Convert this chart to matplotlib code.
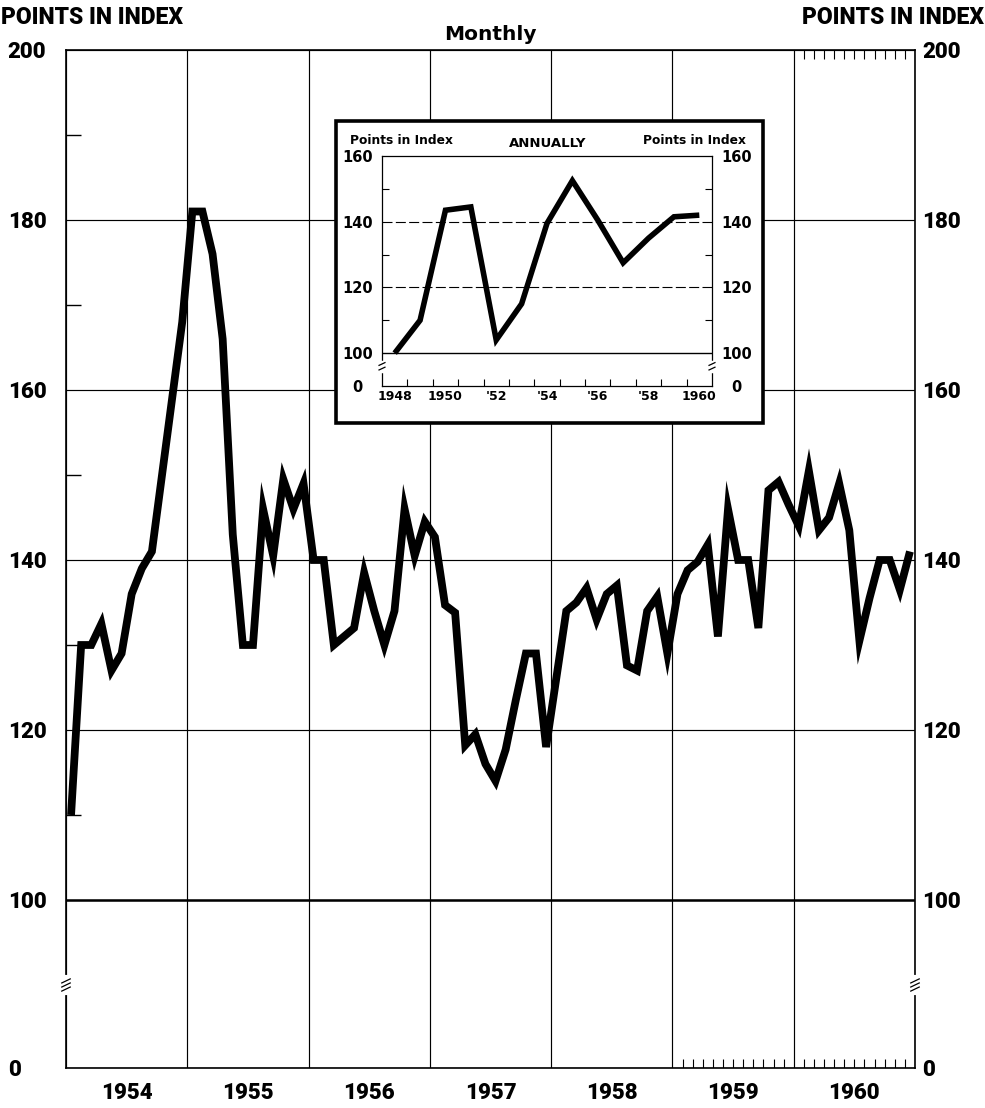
import matplotlib
matplotlib.use("Agg")
import matplotlib.pyplot as plt
import matplotlib.transforms as mtransforms
from matplotlib.patches import Rectangle

# ---------------- data ----------------
years = [1954, 1955, 1956, 1957, 1958, 1959, 1960]
year_labels = ["1954", "1955", "1956", "1957", "1958", "1959", "1960"]

idx_1954 = [110, 130, 130, 132.5, 127, 129, 136, 139, 141, 150, 159, 168]
idx_1955 = [181, 181, 176, 166, 143, 130, 130, 146, 140.5, 149.5, 146, 149]
idx_1956 = [140, 140, 130, 131, 132, 138.5, 134, 130, 134, 146, 140.5, 144.5]
idx_1957 = [142.7, 134.7, 133.8, 118.2, 119.5, 116, 114, 117.7, 123.5, 129, 129, 118]
idx_1958 = [126, 134, 135, 136.7, 133, 136, 137, 127.6, 127, 134, 135.7, 129]
idx_1959 = [136, 138.8, 139.8, 141.8, 131, 146, 140, 140, 132, 148.2, 149.2, 146.5]
idx_1960 = [144, 150.5, 143.5, 145, 149, 143.5, 130.5, 135.5, 140, 140, 136.5, 141]
monthly_series = [idx_1954, idx_1955, idx_1956, idx_1957, idx_1958, idx_1959, idx_1960]

main_ticks = [0, 100, 120, 140, 160, 180, 200]
main_minor = [110, 130, 150, 170, 190]

annual_years = [1948, 1949, 1950, 1951, 1952, 1953, 1954, 1955, 1956, 1957, 1958, 1959, 1960]
annual_values = [100, 110, 143.5, 144.5, 104, 115, 139.5, 152.5, 140.5, 127.5, 135, 141.5, 142]
annual_label_years = [1948, 1950, 1952, 1954, 1956, 1958, 1960]
annual_labels = ["1948", "1950", "'52", "'54", "'56", "'58", "1960"]
inset_ticks = [0, 100, 120, 140, 160]
inset_minor = [110, 130, 150]

# ---------------- style ----------------
plt.rcParams['font.family'] = ['Roboto', 'DejaVu Sans']
plt.rcParams['font.weight'] = 'heavy'

W, H = 985, 1108
fig = plt.figure(figsize=(W / 100, H / 100), dpi=100)
fig.patch.set_facecolor('white')

def fx(px):
    return px / W

def fy(py):
    return 1 - py / H

# main axes: 0 is drawn at a compressed position (broken axis)
AX_L, AX_R, AX_T, AX_B = 66, 915, 50, 1068
ax = fig.add_axes([fx(AX_L), fy(AX_B), fx(AX_R - AX_L), (AX_B - AX_T) / H])
px_per_unit = (900 - AX_T) / 100.0
Y0 = 100 - (AX_B - 900) / px_per_unit   # position of the "0" label

xs = []
vals = []
for yr, series in zip(years, monthly_series):
    for m, v in enumerate(series):
        xs.append(yr + (m + 0.5) / 12)
        vals.append(v)

ax.plot(xs, vals, color='black', lw=5.6, solid_joinstyle='miter',
        solid_capstyle='butt', zorder=3)

ax.set_xlim(years[0], years[-1] + 1)
ax.set_ylim(Y0, 200)

LS = 16
ytick_pos = [Y0 if t == 0 else t for t in main_ticks]
ax.set_yticks(ytick_pos)
ax.set_yticklabels([str(t) for t in main_ticks])
ax.set_yticks(main_minor, minor=True)
ax.tick_params(axis='y', which='major', length=0, pad=42, labelsize=LS)
for lab in ax.get_yticklabels():
    lab.set_ha('left')
ax.tick_params(axis='y', which='minor', direction='in', length=11, width=1.0,
               left=True, right=True)

ax.set_xticks(list(range(years[0], years[-1] + 2)))
ax.set_xticklabels([])
ax.set_xticks([y + 0.5 for y in years], minor=True)
ax.set_xticklabels(year_labels, minor=True)
ax.tick_params(axis='x', which='major', length=0)
ax.tick_params(axis='x', which='minor', length=0, pad=10, labelsize=LS)

ax.grid(True, which='major', color='black', lw=0.85)
ax.axhline(100, color='black', lw=1.8, zorder=2)
for s in ax.spines.values():
    s.set_linewidth(1.2)

# right side labels
ax2 = ax.twinx()
ax2.set_ylim(ax.get_ylim())
ax2.set_yticks(ytick_pos)
ax2.set_yticklabels([str(t) for t in main_ticks])
ax2.tick_params(axis='y', length=0, pad=5, labelsize=LS)
for s in ax2.spines.values():
    s.set_visible(False)

# monthly tick marks on part of the frame
trans = mtransforms.blended_transform_factory(ax.transData, ax.transAxes)
for yr in (1959, 1960):
    mk = [yr + k / 12 for k in range(1, 12)]
    ax.vlines(mk, 0, 0.009, transform=trans, color='black', lw=0.8)
mk = [1960 + k / 12 for k in range(1, 12)]
ax.vlines(mk, 0.991, 1, transform=trans, color='black', lw=0.8)

# axis break marks
yb = (90 - Y0) / (200 - Y0)
for xa in (0, 1):
    ax.plot([xa, xa], [yb - 0.008, yb + 0.008], transform=ax.transAxes,
            color='white', lw=3, zorder=6, clip_on=False)
    for dy in (-0.004, 0.0, 0.004):
        ax.plot([xa - 0.005, xa + 0.005], [yb + dy - 0.002, yb + dy + 0.002],
                transform=ax.transAxes, color='black', lw=0.9, zorder=7,
                clip_on=False)

# headers
fig.text(fx(1), fy(18), 'POINTS IN INDEX', fontsize=16.5, ha='left', va='center')
fig.text(fx(984), fy(18), 'POINTS IN INDEX', fontsize=16.5, ha='right', va='center')
fig.text(fx(490), fy(35), 'Monthly', fontsize=14.5, ha='center', va='center',
         family=['DejaVu Sans'], weight='bold')

# ---------------- inset ----------------
frame = Rectangle((fx(336), fy(423)), fx(763 - 336), (423 - 121) / H,
                  transform=fig.transFigure, facecolor='white',
                  edgecolor='black', lw=2.6, zorder=5)
fig.add_artist(frame)

IN_L, IN_R, IN_T, IN_B = 382, 712, 156, 386
axin = fig.add_axes([fx(IN_L), fy(IN_B), fx(IN_R - IN_L), (IN_B - IN_T) / H])
axin.set_zorder(6)
axin.patch.set_visible(False)
axin.plot(annual_years, annual_values, color='black', lw=4.0,
          solid_joinstyle='miter', solid_capstyle='butt', zorder=3)
axin.set_xlim(1947.5, 1960.5)
IY0 = 90
axin.set_ylim(IY0, 160)

ifont = ['DejaVu Sans']
itick_pos = [IY0 if t == 0 else t for t in inset_ticks]
axin.set_yticks(itick_pos)
axin.set_yticklabels([str(t) for t in inset_ticks])
axin.set_yticks(inset_minor, minor=True)
axin.tick_params(axis='y', which='major', length=0, pad=17.5, labelsize=10.5,
                 labelleft=True, labelright=True)
for t in axin.yaxis.get_major_ticks():
    for lab in (t.label1, t.label2):
        lab.set_ha('center')
        lab.set_family(ifont)
        lab.set_weight('bold')
axin.tick_params(axis='y', which='minor', direction='in', length=5, width=0.8,
                 left=True, right=True)

axin.set_xticks([y + 0.5 for y in annual_years[:-1]])
axin.set_xticklabels([])
axin.tick_params(axis='x', which='major', direction='in', length=5, width=0.8)
axin.set_xticks(annual_label_years, minor=True)
axin.set_xticklabels(annual_labels, minor=True)
axin.tick_params(axis='x', which='minor', length=0, pad=3, labelsize=9)
for lab in axin.get_xticklabels(minor=True):
    lab.set_family(ifont)
    lab.set_weight('bold')

axin.axhline(100, color='black', lw=1.0)
axin.axhline(120, color='black', lw=0.8, ls=(0, (9, 3)))
axin.axhline(140, color='black', lw=0.8, ls=(0, (9, 3)))
for s in axin.spines.values():
    s.set_linewidth(0.9)

ybi = (96 - IY0) / (160 - IY0)
for xa in (0, 1):
    axin.plot([xa, xa], [ybi - 0.02, ybi + 0.02], transform=axin.transAxes,
              color='white', lw=2.5, zorder=6, clip_on=False)
    for dy in (-0.01, 0.01):
        axin.plot([xa - 0.009, xa + 0.009], [ybi + dy - 0.006, ybi + dy + 0.006],
                  transform=axin.transAxes, color='black', lw=0.9, zorder=7,
                  clip_on=False)

fig.text(fx(350), fy(141), 'Points in Index', fontsize=8.8, ha='left', va='center',
         zorder=7, family=ifont, weight='bold')
fig.text(fx(548), fy(143), 'ANNUALLY', fontsize=9.5, ha='center', va='center',
         zorder=7, family=ifont, weight='bold')
fig.text(fx(746), fy(141), 'Points in Index', fontsize=8.8, ha='right', va='center',
         zorder=7, family=ifont, weight='bold')

fig.savefig('out.png', dpi=100)
